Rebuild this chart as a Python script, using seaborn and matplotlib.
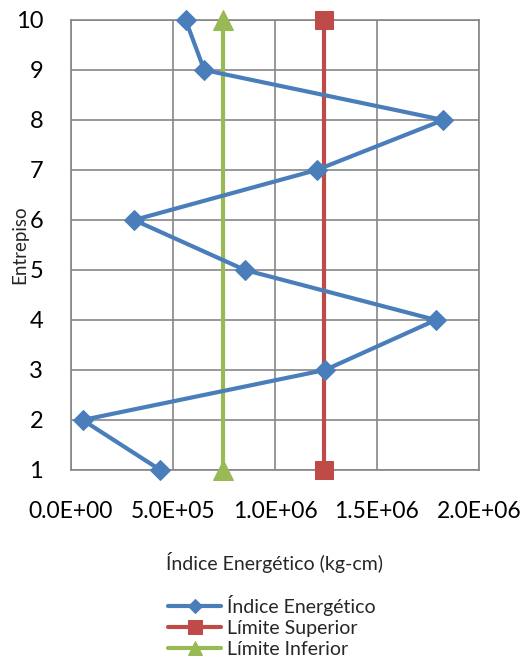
import numpy as np
import pandas as pd
import seaborn as sns
import matplotlib.pyplot as plt
from matplotlib.ticker import FuncFormatter, MultipleLocator

# Data
pisos = [1, 2, 3, 4, 5, 6, 7, 8, 9, 10]
indice = [0.438e6, 0.057e6, 1.245e6, 1.788e6, 0.853e6, 0.309e6, 1.204e6, 1.825e6, 0.653e6, 0.562e6]
lim_sup = [1.242e6, 1.242e6]
lim_inf = [0.743e6, 0.743e6]
lim_pisos = [1, 10]

#--------------------------------------------------------------------------------------------------

sns.set_style('white')
plt.rcParams['font.family'] = ['Lato', 'DejaVu Sans']

fig = plt.figure(figsize=(5.28, 6.62), dpi=100)
ax = fig.add_axes([71/528, 1 - 470/662, 408/528, 450/662])

grid_col = '#868686'

# Índice Energético
sns.lineplot(x=indice, y=pisos, sort=False, estimator=None, ax=ax,
             color='#4A7EBB', lw=3, marker='D', markersize=10,
             markeredgecolor='#4A7EBB', clip_on=False, label='Índice Energético', zorder=5)

# Límite Superior
sns.lineplot(x=lim_sup, y=lim_pisos, sort=False, estimator=None, ax=ax,
             color='#BE4B48', lw=3, marker='s', markersize=13,
             markeredgecolor='#BE4B48', clip_on=False, label='Límite Superior', zorder=4)

# Límite Inferior
sns.lineplot(x=lim_inf, y=lim_pisos, sort=False, estimator=None, ax=ax,
             color='#98B954', lw=3, marker='^', markersize=14,
             markeredgecolor='#98B954', clip_on=False, label='Límite Inferior', zorder=4)

ax.set_xlim(0, 2.0e6)
ax.set_ylim(1, 10)
ax.xaxis.set_major_locator(MultipleLocator(0.5e6))
ax.yaxis.set_major_locator(MultipleLocator(1))
ax.xaxis.set_major_formatter(FuncFormatter(lambda v, p: f'{v:.1E}'))

ax.grid(True, color=grid_col, lw=1.2)
for s in ax.spines.values():
    s.set_color(grid_col)
    s.set_linewidth(1.2)

ax.tick_params(axis='x', length=0, pad=22, labelsize=16.5, labelcolor='black')
ax.tick_params(axis='y', length=0, pad=20, labelsize=17, labelcolor='black')

ax.set_xlabel('Índice Energético (kg-cm)', fontsize=14, labelpad=22)
ax.set_ylabel('Entrepiso', fontsize=13.5)
ax.yaxis.set_label_coords(-0.105, 0.5)

ax.get_legend().remove()
handles, labels = ax.get_legend_handles_labels()
fig.legend(handles, labels, loc='upper center', bbox_to_anchor=(0.515, 1 - 585/662),
           frameon=False, fontsize=14, handlelength=2.7, handletextpad=0.3,
           labelspacing=0.22, borderpad=0, markerscale=0.75)

fig.savefig('out.png', dpi=100)
